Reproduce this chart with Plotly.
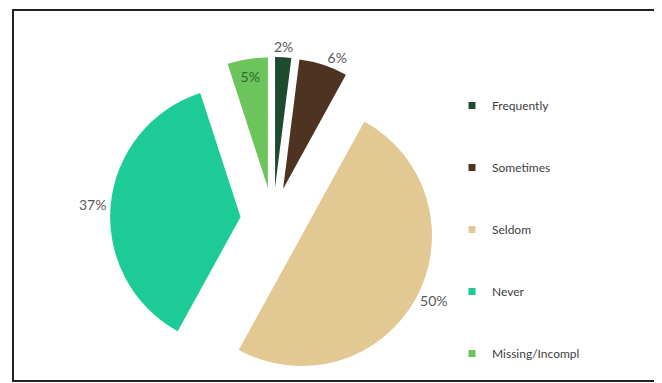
import math
import plotly.graph_objects as go

categories = ["Frequently", "Sometimes", "Seldom", "Never", "Missing/Incompl"]
values = [2, 6, 50, 37, 5]
colors = ["#1E4A30", "#4E3322", "#E2C993", "#1DCB96", "#6DC35C"]
text_pos = ["none", "outside", "outside", "outside", "inside"]
text_colors = ["#595959", "#595959", "#595959", "#595959", "#2E6B2A"]

# page body has an 8px margin; build the figure in page coordinates minus that
OFF = 8
W, H = 662 - OFF, 383 - OFF
PULL = 0.25


def px(x):
    return (x - OFF) / W


def py(y):
    return 1 - (y - OFF) / H


dom_x = [px(103), px(443)]
dom_y = [0, py(57)]

fig = go.Figure()
fig.add_trace(go.Pie(
    labels=categories,
    values=values,
    sort=False,
    direction="clockwise",
    rotation=0,
    pull=PULL,
    marker=dict(colors=colors, line=dict(width=0)),
    texttemplate="%{value}%",
    textposition=text_pos,
    textfont=dict(family="Lato", size=14, color=text_colors),
    insidetextorientation="horizontal",
    showlegend=False,
    domain=dict(x=dom_x, y=dom_y),
    hoverinfo="label+percent",
))

# label for the thin first slice, placed just beyond its pulled arc (from the data)
box_h = (dom_y[1] - dom_y[0]) * H
radius = box_h / (2 + 2 * PULL)
cx = (dom_x[0] + dom_x[1]) / 2 * W
cy = (1 - (dom_y[0] + dom_y[1]) / 2) * H
mid = values[0] / 2 / sum(values) * 2 * math.pi
dist = radius * (1 + PULL) + 11
fig.add_annotation(
    x=(cx + dist * math.sin(mid)) / W, y=1 - (cy - dist * math.cos(mid)) / H,
    xref="paper", yref="paper", xanchor="center", yanchor="middle",
    text=f"{values[0]}%", showarrow=False,
    font=dict(family="Lato", size=14, color="#595959"),
)

for name, col in zip(categories, colors):
    fig.add_trace(go.Scatter(
        x=[None], y=[None], mode="markers", name=name,
        legendgroup=name,
        marker=dict(symbol="square", size=7, color=col),
    ))

fig.update_layout(
    width=W, height=H,
    margin=dict(l=0, r=0, t=0, b=0, autoexpand=False),
    paper_bgcolor="white",
    plot_bgcolor="white",
    xaxis=dict(visible=False),
    yaxis=dict(visible=False),
    legend=dict(
        x=px(452), y=py(91), xanchor="left", yanchor="top",
        font=dict(family="Lato", size=12, color="#404040"),
        tracegroupgap=43, itemwidth=30, bgcolor="rgba(0,0,0,0)",
    ),
    shapes=[dict(type="rect", xref="paper", yref="paper",
                 x0=px(13), x1=px(656), y0=py(381), y1=py(10),
                 line=dict(color="#222222", width=2))],
)

fig.write_html("out.html")
